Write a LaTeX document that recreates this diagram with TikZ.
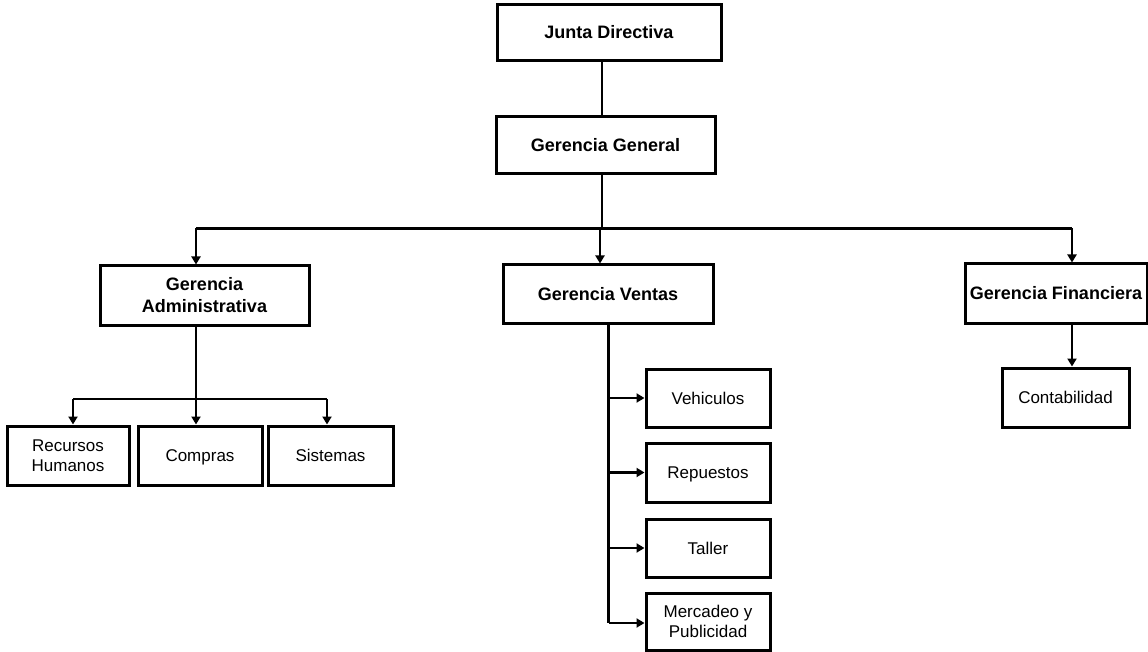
\documentclass[tikz,border=0pt]{standalone}
\usepackage{fontspec}
\setmainfont{Liberation Sans}
\usetikzlibrary{arrows.meta}
\begin{document}
\begin{tikzpicture}[x=1pt,y=-1pt,
  topbox/.style={draw,line width=3pt,inner sep=0pt,align=center,
    font=\fontsize{18}{22}\selectfont\bfseries},
  subbox/.style={draw,line width=3pt,inner sep=0pt,align=center,
    font=\fontsize{17}{20}\selectfont},
  oneline/.style={text height=12.5pt,text depth=0.5pt},
  conn/.style={line width=2.6pt},
  arr/.style={line width=2.6pt,-{Triangle[width=9pt,length=8pt]}}]
\useasboundingbox[fill=white] (0,0) rectangle (1148,652);
% top level
\node[topbox,oneline,minimum width=224pt,minimum height=56pt] (jd) at (609,33) {Junta Directiva};
\node[topbox,oneline,minimum width=219pt,minimum height=57pt] (gg) at (605.5,145.5) {Gerencia General};
\node[topbox,minimum width=209pt,minimum height=59pt] (ga) at (204.5,295.5) {Gerencia\\Administrativa};
\node[topbox,oneline,minimum width=210pt,minimum height=58pt] (gv) at (608,294) {Gerencia Ventas};
\node[topbox,oneline,minimum width=182pt,minimum height=59pt] (gf) at (1056,293.5) {Gerencia Financiera};
% sub boxes
\node[subbox,minimum width=122pt,minimum height=59pt] (rh) at (68,455.5) {Recursos\\Humanos};
\node[subbox,oneline,minimum width=124pt,minimum height=59pt] (co) at (200,455.5) {Compras};
\node[subbox,oneline,minimum width=125pt,minimum height=59pt] (si) at (330.5,455.5) {Sistemas};
\node[subbox,oneline,minimum width=124pt,minimum height=58pt] (ve) at (708,398) {Vehiculos};
\node[subbox,oneline,minimum width=124pt,minimum height=59pt] (re) at (708,472.5) {Repuestos};
\node[subbox,oneline,minimum width=124pt,minimum height=58pt] (ta) at (708,548) {Taller};
\node[subbox,minimum width=124pt,minimum height=57pt] (me) at (708,621.5) {Mercadeo y\\Publicidad};
\node[subbox,oneline,minimum width=127pt,minimum height=59pt] (cb) at (1065.5,397.5) {Contabilidad};
% junctions
\coordinate (j1) at (602,228.5);
\coordinate (j2) at (196,399);
\coordinate (j3) at (608.5,623);
% connectors
\draw[conn] (jd.south -| j1) -- (gg.north -| j1);
\draw[conn] (gg.south -| j1) -- (j1);
\draw[conn] (196,228.5) -- (1072,228.5);
\draw[arr] (196,228.5) -- (ga.north -| 196,0);
\draw[arr] (600,228.5) -- (gv.north -| 600,0);
\draw[arr] (1072,228.5) -- (gf.north -| 1072,0);
% administrativa
\draw[conn] (ga.south -| j2) -- (j2);
\draw[conn] (73,399) -- (327,399);
\draw[arr] (73,399) -- (rh.north -| 73,0);
\draw[arr] (j2) -- (co.north -| j2);
\draw[arr] (327,399) -- (si.north -| 327,0);
% ventas
\draw[conn] (gv.south -| j3) -- (j3);
\draw[arr] (ve.west -| j3) -- (ve.west);
\draw[arr] (re.west -| j3) -- (re.west);
\draw[arr] (ta.west -| j3) -- (ta.west);
\draw[arr] (j3) -- (me.west |- j3);
% financiera
\draw[arr] (gf.south -| 1072,0) -- (cb.north -| 1072,0);
\end{tikzpicture}
\end{document}
